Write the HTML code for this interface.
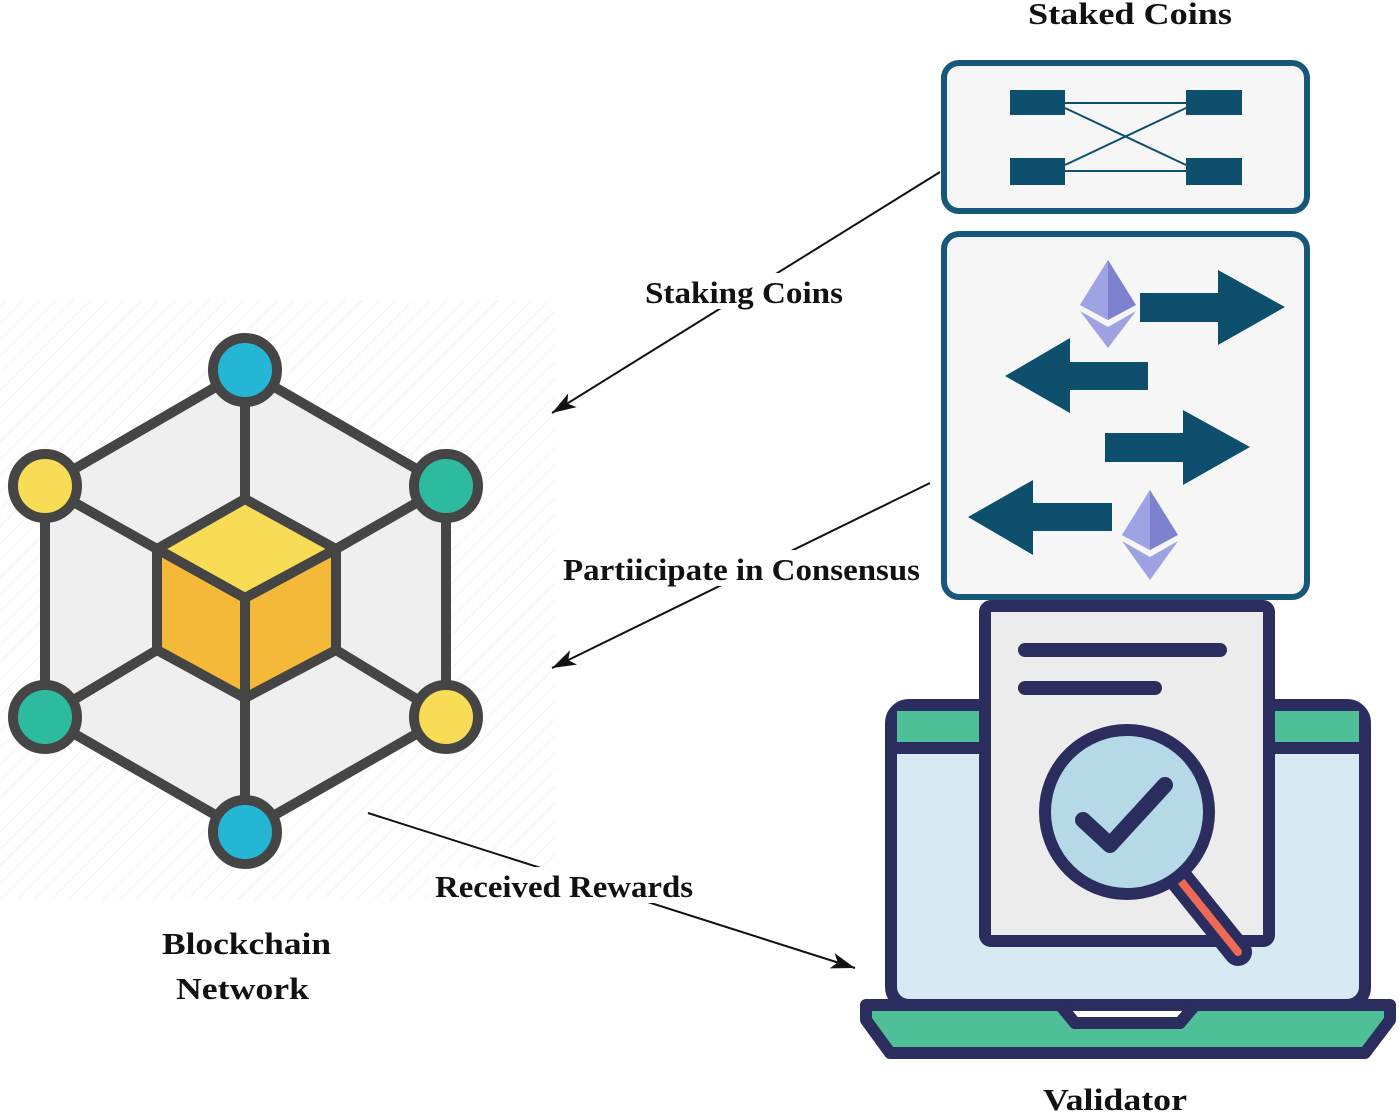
<!DOCTYPE html>
<html><head><style>
html,body{margin:0;padding:0;background:#fff;}
svg{display:block;}
text{font-family:"Liberation Serif",serif;font-weight:bold;fill:#111;}
</style></head><body>
<svg width="1400" height="1113" viewBox="0 0 1400 1113" xmlns="http://www.w3.org/2000/svg">
<defs>
<pattern id="hatch" width="12" height="12" patternUnits="userSpaceOnUse" patternTransform="rotate(45)">
<line x1="0" y1="0" x2="0" y2="12" stroke="#f0f0f0" stroke-width="1.5"/>
</pattern>
<marker id="ah" markerWidth="26" markerHeight="20" refX="24" refY="10" orient="auto" markerUnits="userSpaceOnUse">
<path d="M0,2 L24,10 L0,18 L6,10 Z" fill="#111"/>
</marker>
</defs>
<rect x="0" y="300" width="555" height="600" fill="url(#hatch)"/>

<!-- network -->
<g stroke="#454545" stroke-width="10" stroke-linejoin="round">
<polygon points="245,370 446,486 446,717 245,832 45,717 45,486" fill="#efefef"/>
<line x1="245" y1="370" x2="245" y2="499"/>
<line x1="45" y1="486" x2="157" y2="549"/>
<line x1="446" y1="486" x2="336" y2="549"/>
<line x1="45" y1="717" x2="157" y2="650"/>
<line x1="446" y1="717" x2="336" y2="650"/>
<line x1="245" y1="832" x2="245" y2="698"/>
<polygon points="245,499 336,549 245,598 157,549" fill="#f8dc55"/>
<polygon points="157,549 245,598 245,698 157,650" fill="#f5b93a"/>
<polygon points="336,549 245,598 245,698 336,650" fill="#f5b93a"/>
<circle cx="245" cy="370" r="32" fill="#25b6d5"/>
<circle cx="45" cy="486" r="32" fill="#f8dc55"/>
<circle cx="446" cy="486" r="32" fill="#2dbb9f"/>
<circle cx="45" cy="717" r="32" fill="#2dbb9f"/>
<circle cx="446" cy="717" r="32" fill="#f8dc55"/>
<circle cx="245" cy="832" r="32" fill="#25b6d5"/>
</g>

<!-- box 1 -->
<rect x="944" y="63" width="363" height="148" rx="15" fill="#f6f6f6" stroke="#17587a" stroke-width="6"/>
<g fill="#0e4f6d">
<rect x="1010" y="90" width="55" height="25"/>
<rect x="1010" y="158" width="55" height="27"/>
<rect x="1186" y="90" width="56" height="25"/>
<rect x="1186" y="158" width="56" height="27"/>
</g>
<g stroke="#0e4f6d" stroke-width="2">
<line x1="1065" y1="103" x2="1186" y2="103"/>
<line x1="1065" y1="171" x2="1186" y2="171"/>
<line x1="1065" y1="108" x2="1186" y2="165"/>
<line x1="1065" y1="165" x2="1186" y2="108"/>
</g>

<!-- box 2 -->
<rect x="944" y="234" width="363" height="363" rx="15" fill="#f6f6f6" stroke="#17587a" stroke-width="6"/>
<g fill="#0e4f6d">
<polygon points="1140,293 1218,293 1218,270 1285,307 1218,345 1218,322 1140,322"/>
<polygon points="1148,362 1070,362 1070,338 1005,376 1070,413 1070,390 1148,390"/>
<polygon points="1105,433 1183,433 1183,410 1250,447 1183,485 1183,462 1105,462"/>
<polygon points="1112,503 1033,503 1033,480 968,517 1033,555 1033,531 1112,531"/>
</g>
<g>
<polygon points="1108,260 1136,305 1108,320 1080,305" fill="#7d82cf"/>
<polygon points="1108,260 1108,320 1080,305" fill="#9ea3e3"/>
<polygon points="1080,311 1108,327 1136,311 1108,348" fill="#9ea2e2"/>
<polygon points="1150,490 1178,535 1150,550 1122,535" fill="#7d82cf"/>
<polygon points="1150,490 1150,550 1122,535" fill="#9ea3e3"/>
<polygon points="1122,541 1150,557 1178,541 1150,580" fill="#9ea2e2"/>
</g>

<!-- laptop -->
<g stroke="#2a2d5e" stroke-width="12" stroke-linejoin="round" stroke-linecap="round">
<rect x="891" y="705" width="474" height="300" rx="18" fill="#d7e9f2"/>
<rect x="897" y="711" width="462" height="34" fill="#4fbf98" stroke="none"/>
<line x1="891" y1="748" x2="1365" y2="748"/>
<path d="M866,1005 L1060,1005 L1075,1023 L1180,1023 L1195,1005 L1390,1005 L1390,1020 L1365,1053 L890,1053 L866,1020 Z" fill="#4fbf98"/>
<rect x="985" y="606" width="284" height="335" rx="6" fill="#ececec"/>
<line x1="1025" y1="650" x2="1220" y2="650" stroke-width="14"/>
<line x1="1025" y1="688" x2="1155" y2="688" stroke-width="14"/>
<line x1="1180" y1="880" x2="1238" y2="952" stroke-width="28"/>
<line x1="1180" y1="880" x2="1238" y2="952" stroke="#ef6a56" stroke-width="8"/>
<circle cx="1127" cy="812" r="82" fill="#b5d9e6"/>
<polyline points="1083,820 1110,845 1165,785" fill="none" stroke-width="16"/>
</g>

<!-- connectors -->
<g stroke="#111" stroke-width="2" fill="none">
<line x1="940" y1="172" x2="552" y2="413" marker-end="url(#ah)"/>
<line x1="930" y1="483" x2="552" y2="668" marker-end="url(#ah)"/>
<line x1="368" y1="813" x2="855" y2="968" marker-end="url(#ah)"/>
</g>
<g font-size="31">
<rect x="640" y="273" width="208" height="36" fill="#fff"/>
<text x="645" y="303" textLength="198" lengthAdjust="spacingAndGlyphs">Staking Coins</text>
<rect x="558" y="550" width="366" height="36" fill="#fff"/>
<text x="563" y="580" textLength="357" lengthAdjust="spacingAndGlyphs">Partiicipate in Consensus</text>
<rect x="430" y="867" width="268" height="36" fill="#fff"/>
<text x="435" y="897" textLength="258" lengthAdjust="spacingAndGlyphs">Received Rewards</text>
<text x="162" y="954" textLength="169" lengthAdjust="spacingAndGlyphs">Blockchain</text>
<text x="176" y="999" textLength="133" lengthAdjust="spacingAndGlyphs">Network</text>
<text x="1028" y="24" textLength="204" lengthAdjust="spacingAndGlyphs">Staked Coins</text>
<text x="1043" y="1110" textLength="144" lengthAdjust="spacingAndGlyphs">Validator</text>
</g>
</svg>
</body></html>
